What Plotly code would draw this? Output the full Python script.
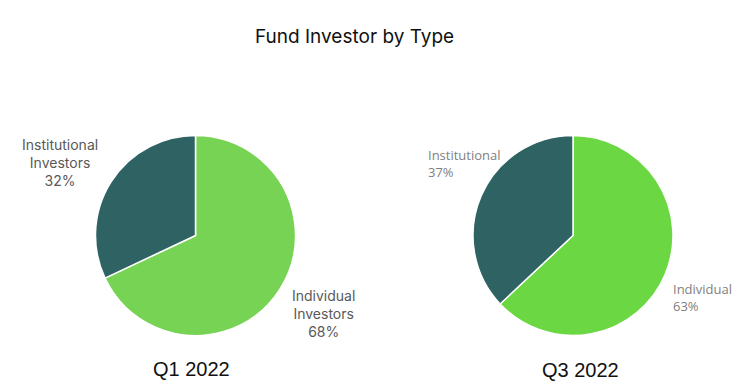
import plotly.graph_objects as go

labels_q1 = ["Individual Investors", "Institutional Investors"]
values_q1 = [68, 32]
labels_q3 = ["Individual", "Institutional"]
values_q3 = [63, 37]
title_text = "Fund Investor by Type"
period_labels = ["Q1 2022", "Q3 2022"]

W, H = 739, 389
teal = "#2F6262"
green_q1 = "#77D353"
green_q3 = "#6BD843"

def px(x):
    return x / W

def py(y):
    return 1 - y / H

fig = go.Figure()
fig.add_trace(go.Pie(
    labels=labels_q1, values=values_q1, sort=False, direction="clockwise", rotation=0,
    marker=dict(colors=[green_q1, teal], line=dict(color="white", width=1.5)),
    textinfo="none", hoverinfo="label+percent",
    domain=dict(x=[px(95.5), px(295.5)], y=[py(335.5), py(135.5)]),
    showlegend=False,
))
fig.add_trace(go.Pie(
    labels=labels_q3, values=values_q3, sort=False, direction="clockwise", rotation=0,
    marker=dict(colors=[green_q3, teal], line=dict(color="white", width=1.5)),
    textinfo="none", hoverinfo="label+percent",
    domain=dict(x=[px(473), px(673)], y=[py(335.5), py(135.5)]),
    showlegend=False,
))

anns = []
# Q1 labels (centered, three lines)
f1 = dict(family="Inter, Noto Sans, sans-serif", size=14, color="#595959")
q1_pos = [(323, 313), (60, 162)]
for lab, val, (x, y) in zip(labels_q1, values_q1, q1_pos):
    txt = "<br>".join(lab.split(" ")) + f"<br>{val}%"
    anns.append(dict(x=px(x), y=py(y), xref="paper", yref="paper", text=txt,
                     showarrow=False, align="center", xanchor="center", yanchor="middle", font=f1))
# Q3 labels (left-aligned, two lines)
f3 = dict(family="Open Sans, sans-serif", size=13, color="#7F7F7F")
q3_pos = [(671, 297), (426, 164)]
for lab, val, (x, y) in zip(labels_q3, values_q3, q3_pos):
    txt = f"{lab}<br>{val}%"
    anns.append(dict(x=px(x), y=py(y), xref="paper", yref="paper", text=txt,
                     showarrow=False, align="left", xanchor="left", yanchor="middle", font=f3))
# Period labels
fp = dict(family="Liberation Sans, Arial, sans-serif", size=20, color="#111111")
for lab, (x, y) in zip(period_labels, [(191, 369), (580, 370)]):
    anns.append(dict(x=px(x), y=py(y), xref="paper", yref="paper", text=lab,
                     showarrow=False, xanchor="center", yanchor="middle", font=fp))
# Title
anns.append(dict(x=px(354), y=py(36), xref="paper", yref="paper", text=title_text,
                 showarrow=False, xanchor="center", yanchor="middle",
                 font=dict(family="Inter, Noto Sans, sans-serif", size=19, color="#111111")))

fig.update_layout(
    width=W, height=H, margin=dict(l=0, r=0, t=0, b=0),
    paper_bgcolor="white", plot_bgcolor="white",
    annotations=anns,
)
fig.write_html("out.html", config={"displayModeBar": False},
               post_script="document.body.style.margin='0';")
